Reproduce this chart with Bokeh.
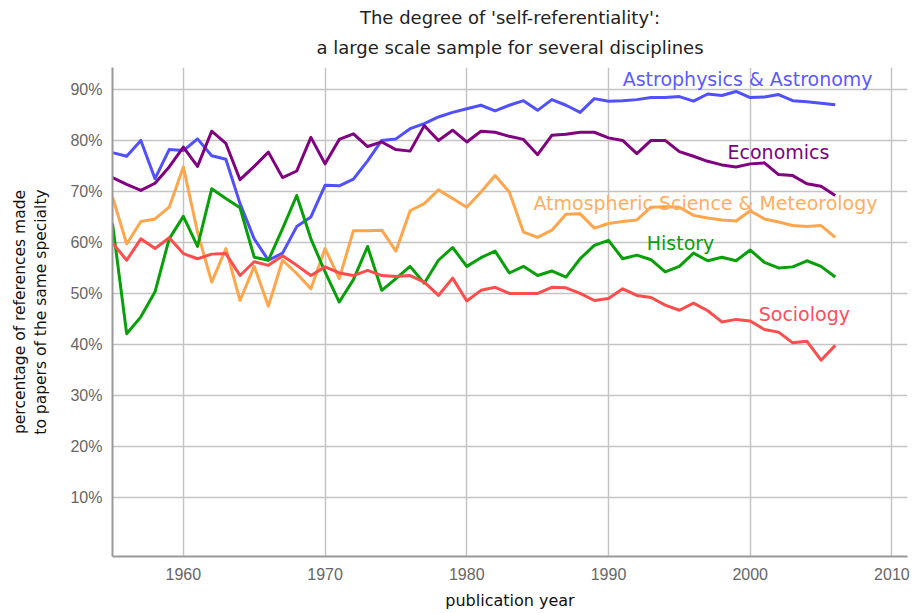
from bokeh.plotting import figure
from bokeh.models import Range1d, FixedTicker, CustomJSTickFormatter, Title, ColumnDataSource
from bokeh.core.properties import value
from bokeh.embed import file_html
from bokeh.resources import INLINE

years = list(range(1955, 2007))

astrophysics = [77.6, 76.9, 80.0, 72.5, 78.2, 78.0, 80.3, 77.0, 76.3, 67.6,
                60.7, 56.5, 57.9, 63.1, 65.0, 71.2, 71.1, 72.4, 76.0, 80.0,
                80.3, 82.3, 83.3, 84.6, 85.5, 86.2, 86.9, 85.8, 86.9, 87.8,
                85.9, 88.0, 86.9, 85.5, 88.2, 87.7, 87.8, 88.0, 88.4, 88.4,
                88.6, 87.7, 89.1, 88.8, 89.6, 88.4, 88.5, 89.0, 87.8, 87.6,
                87.3, 87.0]

economics = [72.7, 71.4, 70.2, 71.6, 74.8, 78.7, 74.9, 81.8, 79.4, 72.3,
             74.9, 77.7, 72.7, 74.0, 80.6, 75.4, 80.2, 81.3, 78.8, 79.7,
             78.2, 77.9, 82.9, 80.0, 82.0, 79.7, 81.8, 81.6, 80.8, 80.2,
             77.2, 81.0, 81.2, 81.6, 81.6, 80.5, 80.0, 77.4, 80.0, 80.0,
             77.8, 76.9, 75.9, 75.2, 74.8, 75.4, 75.6, 73.3, 73.1, 71.5,
             71.0, 69.2]

atmospheric = [68.9, 59.7, 64.1, 64.6, 66.9, 74.8, 62.0, 52.2, 58.8, 48.6,
               55.3, 47.5, 56.5, 53.9, 50.9, 58.8, 52.9, 62.3, 62.3, 62.4,
               58.3, 66.2, 67.6, 70.3, 68.6, 66.9, 69.9, 73.1, 69.9, 62.0,
               61.0, 62.4, 65.5, 65.6, 62.8, 63.7, 64.1, 64.4, 66.9, 67.0,
               66.9, 65.3, 64.8, 64.4, 64.2, 66.2, 64.6, 64.0, 63.3, 63.1,
               63.3, 61.0]

history = [63.7, 42.1, 45.4, 50.3, 60.7, 65.1, 59.2, 70.5, 68.6, 66.8,
           57.1, 56.5, 62.7, 69.2, 60.7, 54.2, 48.3, 52.7, 59.2, 50.6,
           52.9, 55.3, 52.0, 56.5, 59.0, 55.3, 57.0, 58.3, 54.0, 55.3,
           53.5, 54.4, 53.2, 56.8, 59.4, 60.4, 56.8, 57.5, 56.6, 54.2,
           55.3, 57.9, 56.4, 57.1, 56.4, 58.5, 56.1, 55.0, 55.2, 56.4,
           55.3, 53.2]

sociology = [59.9, 56.5, 60.7, 58.8, 60.9, 57.8, 56.8, 57.7, 57.8, 53.5,
             56.2, 55.5, 57.4, 55.5, 53.5, 55.2, 54.0, 53.5, 54.5, 53.5,
             53.3, 53.5, 52.2, 49.6, 53.0, 48.5, 50.6, 51.2, 50.0, 50.0,
             50.0, 51.2, 51.1, 50.0, 48.6, 49.0, 50.9, 49.6, 49.2, 47.7,
             46.7, 48.1, 46.6, 44.4, 44.9, 44.6, 42.9, 42.4, 40.3, 40.6,
             36.9, 39.8]

series_names = ["Astrophysics & Astronomy", "Economics",
                "Atmospheric Science & Meteorology", "History", "Sociology"]
series_values = [astrophysics, economics, atmospheric, history, sociology]
x_ticks = [1960, 1970, 1980, 1990, 2000, 2010]
y_ticks = [10, 20, 30, 40, 50, 60, 70, 80, 90]

# styles
line_colors = ["#5050ff", "#800080", "#ffa64d", "#08a008", "#ff4d4d"]
label_colors = ["#5a5aff", "#800080", "#ffad60", "#08a008", "#ff4d5a"]
label_x = [1991.0, 1998.4, 1984.7, 1992.7, 2000.6]
label_y = [92.0, 77.8, 67.8, 59.8, 45.9]

p = figure(width=912, height=613, output_backend="svg", toolbar_location=None,
           x_range=Range1d(1955, 2011.1), y_range=Range1d(-1.6, 94.3),
           min_border_left=112, min_border_right=5, min_border_top=67,
           min_border_bottom=57)
p.outline_line_color = None
p.background_fill_color = "white"
p.border_fill_color = "white"

# spacer closest to the frame (added first), then the second title line
spacer = Title(text=" ", align="center", text_font="DejaVu Sans",
               text_font_size="3px", standoff=0)
p.add_layout(spacer, "above")
t2 = Title(text="a large scale sample for several disciplines", align="center",
           text_font="DejaVu Sans", text_font_size="18px",
           text_font_style="normal", text_color="#222222", standoff=9)
p.add_layout(t2, "above")

p.title.text = "The degree of 'self-referentiality':"
p.title.align = "center"
p.title.text_font = "DejaVu Sans"
p.title.text_font_size = "18px"
p.title.text_font_style = "normal"
p.title.text_color = "#222222"
p.title.offset = 0
p.title.standoff = 5

for vals, col in zip(series_values, line_colors):
    p.line(years, vals, line_color=col, line_width=3, line_join="round")

src = ColumnDataSource(dict(x=label_x, y=label_y, t=series_names, c=label_colors))
p.text(x="x", y="y", text="t", text_color="c", source=src,
       text_font=value("DejaVu Sans"), text_font_size="19px",
       text_align="left", text_baseline="middle")

p.xaxis.ticker = FixedTicker(ticks=x_ticks)
p.yaxis.ticker = FixedTicker(ticks=y_ticks)
p.yaxis.formatter = CustomJSTickFormatter(code="return tick + '%';")
p.xgrid.ticker = FixedTicker(ticks=x_ticks)
p.ygrid.ticker = FixedTicker(ticks=y_ticks)

for g in (p.xgrid, p.ygrid):
    g.grid_line_color = "#c4c4c4"
    g.grid_line_width = 1.5

for ax in (p.xaxis, p.yaxis):
    ax.axis_line_color = "#999999"
    ax.axis_line_width = 2
    ax.major_tick_line_color = None
    ax.minor_tick_line_color = None
    ax.major_tick_out = 0
    ax.major_tick_in = 0
    ax.minor_tick_out = 0
    ax.major_label_text_font = "Liberation Sans"
    ax.major_label_text_font_size = "16px"
    ax.major_label_text_color = "#666666"
    ax.axis_label_text_font = "DejaVu Sans"
    ax.axis_label_text_font_style = "normal"
    ax.axis_label_text_color = "#111111"

p.xaxis.major_label_standoff = 11
p.yaxis.major_label_standoff = 10
p.xaxis.axis_label = "publication year"
p.xaxis.axis_label_text_font_size = "16px"
p.xaxis.axis_label_standoff = 8
p.yaxis.axis_label = "percentage of references made\nto papers of the same specialty"
p.yaxis.axis_label_text_font_size = "15.5px"
p.yaxis.axis_label_standoff = 17

open("out.html", "w").write(file_html(p, INLINE))
